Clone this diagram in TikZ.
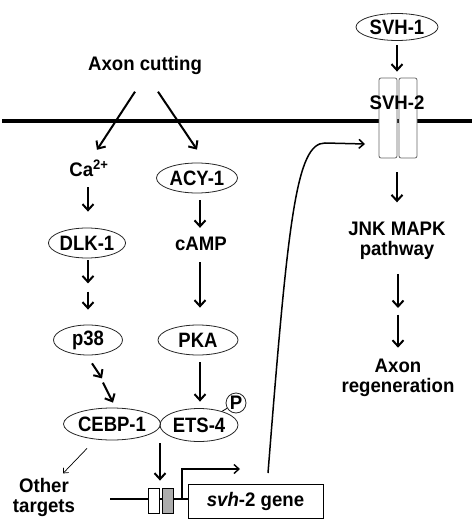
\documentclass[tikz,border=0pt]{standalone}
\usepackage{fontspec}
\setmainfont{Liberation Sans}[FakeStretch=0.95]
\newfontfamily\protfont{Liberation Sans}[FakeStretch=0.89]
\usetikzlibrary{arrows.meta,shapes.geometric}
\begin{document}
\begin{tikzpicture}[x=1pt,y=-1pt,
  every node/.style={font=\bfseries\fontsize{19.6}{20}\selectfont, inner sep=0pt},
  txt/.style={text height=13pt, text depth=4pt},
  ml/.style={align=center},
  prot/.style={ellipse, draw=black!85, line width=0.8pt, font=\protfont\bfseries\fontsize{20.8}{22}\selectfont},
  arr/.style={line width=2pt, -{Straight Barb[length=6pt,width=11pt]}},
  thinarr/.style={line width=0.7pt, -{Straight Barb[length=4pt,width=7pt]}},
  curvearr/.style={line width=1.5pt, -{Straight Barb[length=5pt,width=9pt]}},
  genel/.style={line width=1.4pt},
  rec/.style={draw=black!60, rounded corners=2pt, fill=white, minimum width=18pt, minimum height=80pt, line width=0.8pt},
  sbox/.style={draw, line width=0.8pt, minimum width=11pt, minimum height=25pt}
]
\path[use as bounding box] (0,0) rectangle (474,521);

% membrane
\coordinate (memL) at (2,121);
\coordinate (memR) at (472,121);
\draw[line width=3.2pt] (memL) -- (memR);

% left pathway
\node[txt] (axon) at (145,66) {Axon cutting};
\node[txt] (ca) at (89,172.5) {Ca\textsuperscript{2+}};
\node[prot, minimum width=81pt, minimum height=30pt] (acy) at (197,178) {ACY-1};
\node[prot, minimum width=76pt, minimum height=30pt] (dlk) at (87,243) {DLK-1};
\node[txt] (camp) at (201,245.5) {cAMP};
\node[prot, minimum width=69pt, minimum height=30pt] (p38) at (88,340) {p38};
\node[prot, minimum width=80pt, minimum height=30pt] (pka) at (198,340) {PKA};
\node[prot, minimum width=97pt, minimum height=32pt] (cebp) at (112,424) {CEBP-1};
\node[prot, minimum width=78pt, minimum height=33pt] (ets) at (199,425) {ETS-4};
\node[circle, draw=black!85, line width=0.8pt, minimum size=20pt] (pc) at (236,403) {P};
\node[ml] (others) at (44,497) {Other\\targets};

% gene construct
\coordinate (lineL) at (110,499);
\node[draw, line width=1pt, minimum width=135pt, minimum height=34pt] (gene) at (255.5,501) {\textit{svh}-2 gene};
\draw[genel] (lineL) -- (lineL -| gene.west);
\node[sbox, fill=white] (wbox) at (153.5,500.5) {};
\node[sbox, fill=gray!65] (gbox) at (167.5,500.5) {};
\coordinate (prom) at (182,499);
\coordinate (promEnd) at (240,469);
\draw[genel, -{Straight Barb[length=5pt,width=9pt]}] (prom) |- (promEnd);

% right pathway
\node[prot, minimum width=82pt, minimum height=27pt] (svh1) at (397,27) {SVH-1};
\node[rec] (r1) at (388,118) {};
\node[rec] (r2) at (408,118) {};
\node[txt] (svh2) at (397,105.5) {SVH-2};
\node[ml] (jnk) at (397,241) {JNK MAPK\\pathway};
\node[ml] (regen) at (398,378.3) {Axon\\regeneration};

% connectors
\draw[arr] ([xshift=-10pt,yshift=-17pt]axon.south) -- ([xshift=8pt,yshift=14pt]ca.north);
\draw[arr] ([xshift=13pt,yshift=-17pt]axon.south) -- ([yshift=13pt]acy.north);
\draw[arr] ([xshift=-1pt,yshift=-6pt]ca.south) -- ([xshift=1pt,yshift=16pt]dlk.north);
\draw[arr] ([xshift=1pt,yshift=-2pt]dlk.south) -- ([xshift=1pt,yshift=-25pt]dlk.south);
\draw[arr] ([yshift=33pt]p38.north) -- ([yshift=15pt]p38.north);
\draw[arr] ([xshift=3pt,yshift=-7pt]acy.south) -- ([xshift=-1pt,yshift=9pt]camp.north);
\draw[arr] ([xshift=-1pt,yshift=-8pt]camp.south) -- ([xshift=2pt,yshift=17pt]pka.north);
\draw[arr] ([xshift=2pt,yshift=-7pt]pka.south) -- ([xshift=1pt,yshift=6.5pt]ets.north);
\draw[arr] ([xshift=4pt,yshift=-8pt]p38.south) -- ([xshift=14pt,yshift=-23pt]p38.south);
\draw[arr] ([xshift=-9pt,yshift=25pt]cebp.north) -- ([xshift=1pt,yshift=5pt]cebp.north);
\draw[thinarr] ([xshift=-25pt,yshift=-8pt]cebp.south) -- ([xshift=-49pt,yshift=-33pt]cebp.south);
\draw[arr] ([xshift=48pt,yshift=-3pt]cebp.south) -- ([xshift=6.5pt,yshift=7pt]wbox.north);
\draw[line width=0.8pt] (ets) -- (pc);

\coordinate (cs) at (268,473);
\coordinate (ce) at (365,144);
\draw[curvearr] (cs) .. controls (288,220) and (296,143) .. (325,143) -- (ce);

\draw[arr] ([yshift=-4.5pt]svh1.south) -- ([xshift=9pt,yshift=6pt]r1.north);
\draw[arr] ([xshift=9pt,yshift=-14pt]r1.south) -- ([yshift=19.7pt]jnk.north);
\draw[arr] ([xshift=1pt,yshift=-14pt]jnk.south) -- ([xshift=1pt,yshift=-48pt]jnk.south);
\draw[arr] ([yshift=44.6pt]regen.north) -- ([yshift=11.6pt]regen.north);
\end{tikzpicture}
\end{document}
